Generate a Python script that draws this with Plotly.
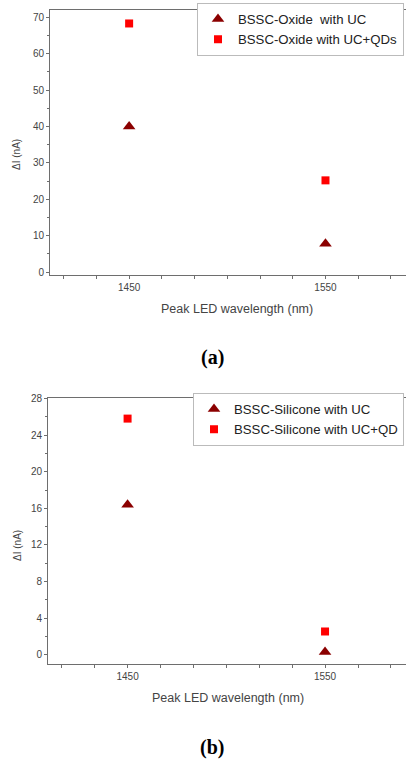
import plotly.graph_objects as go

wavelengths = [1450, 1550]
oxide_uc = [40.0, 7.8]
oxide_uc_qds = [68.3, 25.2]
silicone_uc = [16.4, 0.3]
silicone_uc_qd = [25.8, 2.55]

x_ticks = [1450, 1550]
y_ticks_a = [0, 10, 20, 30, 40, 50, 60, 70]
y_ticks_b = [0, 4, 8, 12, 16, 20, 24, 28]

W, H = 406, 761
TRI = "#8B0000"
SQ = "#FF0000"
AX = "#6e6e6e"
TXT = "#444444"
FONT = "Liberation Sans, Arial, sans-serif"
SERIF = "Liberation Serif, Times New Roman, serif"

fig = go.Figure()
fig.add_trace(go.Scatter(x=wavelengths, y=oxide_uc, mode="markers", name="BSSC-Oxide  with UC",
                         marker=dict(symbol="triangle-up", size=11, color=TRI), xaxis="x", yaxis="y", legend="legend"))
fig.add_trace(go.Scatter(x=wavelengths, y=oxide_uc_qds, mode="markers", name="BSSC-Oxide with UC+QDs",
                         marker=dict(symbol="square", size=8, color=SQ), xaxis="x", yaxis="y", legend="legend"))
fig.add_trace(go.Scatter(x=wavelengths, y=silicone_uc, mode="markers", name="BSSC-Silicone with UC",
                         marker=dict(symbol="triangle-up", size=11, color=TRI), xaxis="x2", yaxis="y2", legend="legend2"))
fig.add_trace(go.Scatter(x=wavelengths, y=silicone_uc_qd, mode="markers", name="BSSC-Silicone with UC+QD",
                         marker=dict(symbol="square", size=8, color=SQ), xaxis="x2", yaxis="y2", legend="legend2"))

def py(p):
    return 1 - p / H

def xaxis(left, anchor):
    return dict(domain=[left / W, 1], anchor=anchor, range=[1409.7, 1591], automargin=False,
                tickvals=x_ticks, ticktext=[str(v) for v in x_ticks],
                ticks="outside", ticklen=3, tickcolor=AX, tickwidth=1,
                minor=dict(tickvals=[1416.7, 1433.3, 1466.7, 1483.3, 1500, 1516.7, 1533.3, 1566.7, 1583.3],
                           ticks="outside", ticklen=3, tickcolor=AX),
                showline=True, linecolor=AX, linewidth=1, mirror=True,
                showgrid=False, zeroline=False,
                tickfont=dict(size=10, color=TXT, family=FONT))

def yaxis(bottom, top, rng, ticks, minor_d, anchor):
    return dict(domain=[py(bottom), py(top)], anchor=anchor, range=rng, automargin=False,
                tickvals=ticks, ticks="outside", ticklen=3, tickcolor=AX,
                minor=dict(dtick=minor_d, tick0=0, ticks="outside", ticklen=2, tickcolor=AX),
                showline=True, linecolor=AX, linewidth=1,
                showgrid=False, zeroline=False,
                tickfont=dict(size=10, color=TXT, family=FONT))

leg_common = dict(bgcolor="white", bordercolor="#bbbbbb", borderwidth=1,
                  font=dict(size=13.2, color="#222222", family=FONT),
                  xanchor="left", yanchor="top", tracegroupgap=0, itemwidth=30)

def label(text, x, y, size, family, color="black", angle=0):
    return dict(text=text, x=x / W, y=py(y), xref="paper", yref="paper", showarrow=False,
                textangle=angle, xanchor="center", yanchor="middle",
                font=dict(size=size, family=family, color=color))

fig.update_layout(
    width=W, height=H, margin=dict(l=0, r=0, t=0, b=0, autoexpand=False),
    paper_bgcolor="white", plot_bgcolor="white",
    xaxis=xaxis(50, "y"),
    yaxis=yaxis(275, 10, [-0.8, 72], y_ticks_a, 5, "x"),
    xaxis2=xaxis(48, "y2"),
    yaxis2=yaxis(664, 398, [-1.0, 28.05], y_ticks_b, 2, "x2"),
    legend=dict(x=197 / W, y=py(3), **leg_common),
    legend2=dict(x=193 / W, y=py(393), **leg_common),
    annotations=[
        label("Peak LED wavelength (nm)", 237, 309, 12.5, FONT, TXT),
        label("Peak LED wavelength (nm)", 228, 698, 12.5, FONT, TXT),
        label("ΔI (nA)", 17, 155, 10, FONT, TXT, -90),
        label("ΔI (nA)", 17, 546, 10, FONT, TXT, -90),
        label("<b>(a)</b>", 212, 357, 20, SERIF),
        label("<b>(b)</b>", 212, 747, 20, SERIF),
    ],
)

fig.write_html("out.html",
               config=dict(displayModeBar=False),
               post_script="document.body.style.margin='0';document.body.style.overflow='hidden';"
                           "document.documentElement.style.overflow='hidden';")
